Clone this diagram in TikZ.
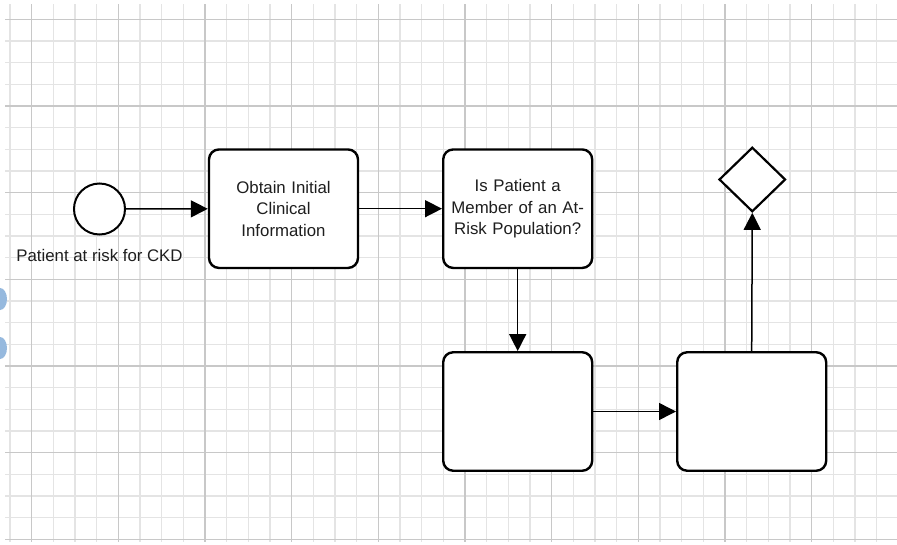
\documentclass[tikz,border=0pt]{standalone}
\usepackage{fontspec}
\setmainfont{Liberation Sans}
\usetikzlibrary{arrows.meta,shapes.geometric}
\definecolor{gridminor}{RGB}{228,228,228}
\definecolor{gridmajor}{RGB}{200,200,200}
\definecolor{txt}{RGB}{30,30,30}
\definecolor{blob}{RGB}{150,185,222}
\tikzset{
  task/.style={draw=black, line width=2.4pt, rounded corners=10pt, fill=white,
    minimum width=149pt, minimum height=118.5pt, inner sep=2pt, align=center,
    text=txt, font=\fontsize{16.8}{21.6}\selectfont, text width=140pt},
  startev/.style={draw=black, line width=2pt, circle, fill=white, minimum size=51pt, inner sep=0pt},
  gateway/.style={draw=black, line width=2.2pt, diamond, fill=white, minimum width=66.5pt,
    minimum height=64.5pt, inner sep=0pt},
  lbl/.style={text=txt, font=\fontsize{16.8}{21.6}\selectfont, inner sep=0pt},
  flow/.style={draw=black, line width=1.5pt, -{Triangle[length=17pt,width=17pt]}},
  gminor/.style={draw=gridminor, line width=1.1pt},
  gmajor/.style={draw=gridmajor, line width=1.1pt}
}
\begin{document}
\begin{tikzpicture}[x=1pt,y=-1pt]
\useasboundingbox (0,0) rectangle (897,544);
\fill[white] (0,0) rectangle (897,544);
% grid
\foreach \k in {0,...,40}{
  \draw[gminor] ({10+\k*21.667},4) -- ({10+\k*21.667},542);
}
\foreach \k in {0,...,24}{
  \draw[gminor] (5,{19.33+\k*21.667}) -- (897,{19.33+\k*21.667});
}
\foreach \k in {1,5,...,37}{
  \draw[gmajor] ({10+\k*21.667},4) -- ({10+\k*21.667},542);
}
\foreach \k in {0,4,...,24}{
  \draw[gmajor] (5,{19.33+\k*21.667}) -- (897,{19.33+\k*21.667});
}
% partial shapes at left edge
\begin{scope}
\clip (0,0) rectangle (897,544);
\fill[blob] (0,299) ellipse [x radius=7, y radius=11];
\fill[blob] (0,348) ellipse [x radius=7, y radius=11];
\end{scope}
% nodes
\node[startev] (start) at (99.5,209) {};
\node[lbl] (startlbl) at (99.5,255) {Patient at risk for CKD};
\node[task] (b1) at (283.5,208.7) {Obtain Initial\\Clinical\\Information};
\node[task] (b2) at (517.7,208.7) {Is Patient a\\Member of an At-\\Risk Population?};
\node[task] (b3) at (517.7,411.5) {};
\node[task] (b4) at (751.7,411.5) {};
\node[gateway] (gw) at (752.3,179.5) {};
% connectors
\draw[flow] (start) -- (b1);
\draw[flow] (b1) -- (b2);
\draw[flow] (b2) -- (b3);
\draw[flow] (b3) -- (b4);
\draw[flow] (b4.north) -- (gw.south);
\end{tikzpicture}
\end{document}
